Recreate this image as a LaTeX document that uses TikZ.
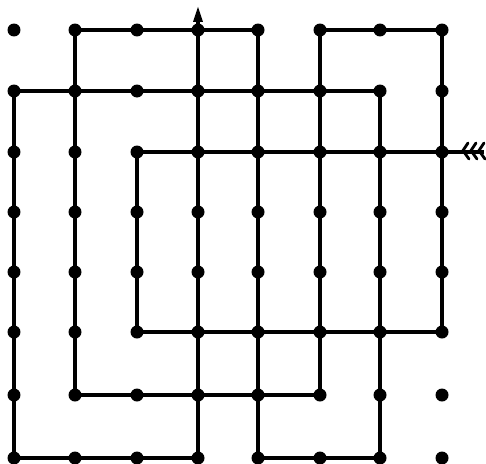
\documentclass[tikz,border=0pt]{standalone}
\usetikzlibrary{arrows.meta}
\begin{document}
\begin{tikzpicture}[x=0.02cm,y=-0.02cm,
  dot/.style={circle,fill=black,inner sep=0pt,minimum size=0.26cm},
  route/.style={line width=1.9pt,line join=miter},
  fletch/.style={line width=1.6pt,line cap=round}]
\useasboundingbox (0,0) rectangle (486,463);
% grid of dots
\foreach \i/\x in {0/14,1/75,2/137,3/198,4/258,5/320,6/380,7/442}{
  \foreach \j/\y in {0/30,1/91,2/152,3/212,4/272,5/332,6/395,7/458}{
    \node[dot] (d\i\j) at (\x,\y) {};
  }
}
\coordinate (tail) at (484,152);
\coordinate (head) at (198,6);
% the single path
\draw[route] (tail) -- (d72.center) -- (d22.center) -- (d25.center) -- (d75.center)
  -- (d70.center) -- (d50.center) -- (d56.center) -- (d16.center) -- (d10.center)
  -- (d40.center) -- (d47.center) -- (d67.center) -- (d61.center) -- (d01.center)
  -- (d07.center) -- (d37.center) -- (d30.center);
\draw[route,-{Triangle[length=9pt,width=5pt]}] (d30.center) -- (head);
% fletching at the start
\foreach \x in {462,470,478}{
  \draw[fletch] (\x,152) -- (\x+6,143);
  \draw[fletch] (\x+2,152) -- (\x+7,159);
}
\end{tikzpicture}
\end{document}
